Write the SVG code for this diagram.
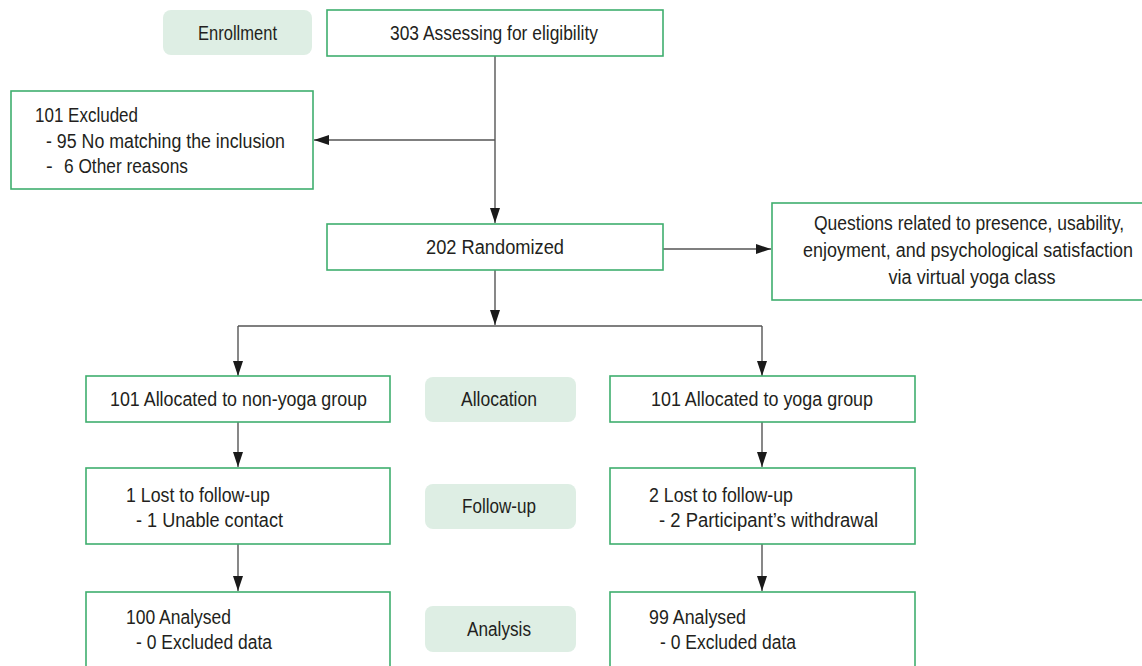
<svg xmlns="http://www.w3.org/2000/svg" width="1142" height="666" viewBox="0 0 1142 666">
<style>
.box{fill:#fff;stroke:#3fae6e;stroke-width:1.6}
.pill{fill:#deeee4;stroke:none}
.t{font-family:"Liberation Sans",Arial,sans-serif;font-size:20px;fill:#231f20}
.m{text-anchor:middle}
.ln{fill:none;stroke:#555;stroke-width:1.4}
</style>
<defs>
<marker id="ah" markerWidth="16" markerHeight="11" refX="15" refY="5" orient="auto" markerUnits="userSpaceOnUse">
<path d="M0,0 L15,5 L0,10 z" fill="#1a1a1a"/>
</marker>
</defs>
<rect width="1142" height="666" fill="#fff"/>
<g id="connectors">
<line class="ln" x1="495" y1="56" x2="495" y2="223" marker-end="url(#ah)"/>
<line class="ln" x1="495" y1="140" x2="314" y2="140" marker-end="url(#ah)"/>
<line class="ln" x1="663" y1="249" x2="771" y2="249" marker-end="url(#ah)"/>
<line class="ln" x1="495" y1="270" x2="495" y2="325" marker-end="url(#ah)"/>
<line class="ln" x1="238" y1="326" x2="762" y2="326"/>
<line class="ln" x1="238" y1="326" x2="238" y2="376" marker-end="url(#ah)"/>
<line class="ln" x1="762" y1="326" x2="762" y2="376" marker-end="url(#ah)"/>
<line class="ln" x1="238" y1="422" x2="238" y2="467" marker-end="url(#ah)"/>
<line class="ln" x1="762" y1="422" x2="762" y2="467" marker-end="url(#ah)"/>
<line class="ln" x1="238" y1="544" x2="238" y2="591" marker-end="url(#ah)"/>
<line class="ln" x1="762" y1="544" x2="762" y2="591" marker-end="url(#ah)"/>
</g>
<g id="enrollment">
<rect class="pill" x="163" y="10" width="149" height="45" rx="8"/>
<text class="t m" x="237.5" y="40" textLength="79" lengthAdjust="spacingAndGlyphs">Enrollment</text>
</g>
<g id="assessing">
<rect class="box" x="327" y="10" width="336" height="46"/>
<text class="t m" x="494" y="40" textLength="208" lengthAdjust="spacingAndGlyphs">303 Assessing for eligibility</text>
</g>
<g id="excluded">
<rect class="box" x="11" y="91" width="302" height="98"/>
<text class="t" x="35" y="122" textLength="103" lengthAdjust="spacingAndGlyphs">101 Excluded</text>
<text class="t" x="46" y="148" textLength="239" lengthAdjust="spacingAndGlyphs">- 95 No matching the inclusion</text>
<text class="t" x="46" y="173">-</text>
<text class="t" x="64" y="173" textLength="124" lengthAdjust="spacingAndGlyphs">6 Other reasons</text>
</g>
<g id="randomized">
<rect class="box" x="327" y="224" width="336" height="46"/>
<text class="t m" x="495" y="254" textLength="138" lengthAdjust="spacingAndGlyphs">202 Randomized</text>
</g>
<g id="questions">
<rect class="box" x="772" y="203" width="372" height="97"/>
<text class="t m" x="969" y="230" textLength="310" lengthAdjust="spacingAndGlyphs">Questions related to presence, usability,</text>
<text class="t m" x="968" y="257" textLength="330" lengthAdjust="spacingAndGlyphs">enjoyment, and psychological satisfaction</text>
<text class="t m" x="972" y="284" textLength="167" lengthAdjust="spacingAndGlyphs">via virtual yoga class</text>
</g>
<g id="alloc-nonyoga">
<rect class="box" x="86" y="376" width="304" height="46"/>
<text class="t m" x="238.5" y="406" textLength="257" lengthAdjust="spacingAndGlyphs">101 Allocated to non-yoga group</text>
</g>
<g id="allocation">
<rect class="pill" x="425" y="377" width="151" height="45" rx="8"/>
<text class="t m" x="499" y="406" textLength="76" lengthAdjust="spacingAndGlyphs">Allocation</text>
</g>
<g id="alloc-yoga">
<rect class="box" x="610" y="376" width="305" height="46"/>
<text class="t m" x="762" y="406" textLength="222" lengthAdjust="spacingAndGlyphs">101 Allocated to yoga group</text>
</g>
<g id="lost-nonyoga">
<rect class="box" x="86" y="468" width="304" height="76"/>
<text class="t" x="126" y="502" textLength="144" lengthAdjust="spacingAndGlyphs">1 Lost to follow-up</text>
<text class="t" x="136" y="527" textLength="147" lengthAdjust="spacingAndGlyphs">- 1 Unable contact</text>
</g>
<g id="followup">
<rect class="pill" x="425" y="484" width="151" height="45" rx="8"/>
<text class="t m" x="499" y="513" textLength="74" lengthAdjust="spacingAndGlyphs">Follow-up</text>
</g>
<g id="lost-yoga">
<rect class="box" x="610" y="468" width="305" height="76"/>
<text class="t" x="649" y="502" textLength="144" lengthAdjust="spacingAndGlyphs">2 Lost to follow-up</text>
<text class="t" x="659" y="527" textLength="219" lengthAdjust="spacingAndGlyphs">- 2 Participant’s withdrawal</text>
</g>
<g id="analysed-nonyoga">
<rect class="box" x="86" y="592" width="304" height="80"/>
<text class="t" x="126" y="624" textLength="105" lengthAdjust="spacingAndGlyphs">100 Analysed</text>
<text class="t" x="136" y="649" textLength="136" lengthAdjust="spacingAndGlyphs">- 0 Excluded data</text>
</g>
<g id="analysis">
<rect class="pill" x="425" y="606" width="151" height="46" rx="8"/>
<text class="t m" x="499" y="636" textLength="64" lengthAdjust="spacingAndGlyphs">Analysis</text>
</g>
<g id="analysed-yoga">
<rect class="box" x="610" y="592" width="305" height="80"/>
<text class="t" x="649" y="624" textLength="97" lengthAdjust="spacingAndGlyphs">99 Analysed</text>
<text class="t" x="660" y="649" textLength="136" lengthAdjust="spacingAndGlyphs">- 0 Excluded data</text>
</g>
</svg>
